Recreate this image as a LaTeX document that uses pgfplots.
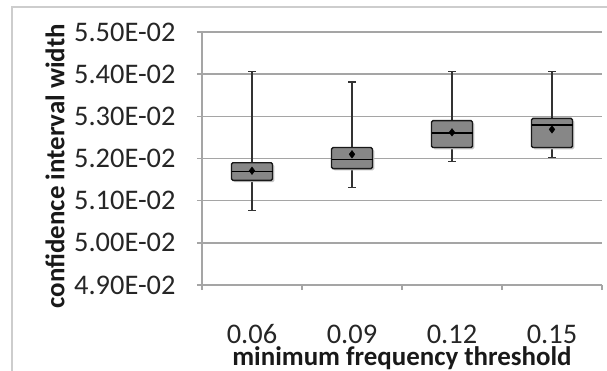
\documentclass[border=0pt]{standalone}
\usepackage{fontspec}
\setmainfont{Carlito}
\usepackage{pgfplots}
\pgfplotsset{compat=1.18}
\definecolor{boxgray}{RGB}{135,135,135}
\definecolor{gridgray}{RGB}{165,165,165}
\definecolor{framegray}{RGB}{205,205,205}
\definecolor{shadowgray}{RGB}{195,195,195}
\newcommand{\tickfont}{\fontsize{28.5}{32}\selectfont}
\pgfplotsset{
  whisk/.style={black!80, line width=1.4bp, no marks},
  boxst/.style={draw=black!90, fill=boxgray, line width=1.4bp, no marks, rounded corners=1.5bp},
  shst/.style={draw=none, fill=shadowgray, no marks, xshift=1.8bp, yshift=-1.8bp, rounded corners=1.5bp},
  medst/.style={black, line width=1.6bp, no marks},
  meanst/.style={only marks, mark=diamond*, mark size=3.8bp, black},
}
\begin{document}
\begin{tikzpicture}
\path[use as bounding box] (0bp,0bp) rectangle (607bp,371bp);
\draw[framegray, line width=1.2bp] (12bp,0bp) -- (12bp,364bp) -- (607bp,364bp);
% values in units of 1E-02
\begin{axis}[
  at={(202bp,86bp)}, anchor=south west,
  scale only axis, width=400bp, height=253bp,
  xmin=0, xmax=4, ymin=4.9, ymax=5.5,
  axis lines=left, axis line style={gridgray, line width=1.5bp, -},
  xtick={0,1,2,3,4}, x tick label as interval,
  xticklabels={0.06,0.09,0.12,0.15},
  ytick={4.9,5.0,5.1,5.2,5.3,5.4,5.5},
  yticklabels={4.90E-02,5.00E-02,5.10E-02,5.20E-02,5.30E-02,5.40E-02,5.50E-02},
  ymajorgrids, grid style={gridgray, line width=1.5bp},
  tick align=outside, major tick length=5bp,
  tick style={gridgray, line width=1.5bp},
  xticklabel style={font=\tickfont, text=black!85, anchor=base, yshift=-53bp},
  yticklabel style={font=\tickfont, text=black!85, anchor=east, xshift=-18bp},
  xlabel={minimum frequency threshold},
  ylabel={confidence interval width},
  label style={font=\fontsize{27}{31}\selectfont\bfseries, text=black!90},
  xlabel style={at={(axis description cs:0.5,-0.318)}, anchor=base},
  ylabel style={at={(axis description cs:-0.3675,0.47)}, anchor=center, rotate=0},
  clip=false,
]
% ---- 0.06: lw 5.076 lq 5.148 med 5.169 uq 5.190 uw 5.407 mean 5.171
\addplot[whisk] coordinates {(0.5,5.076) (0.5,5.148)};
\addplot[whisk] coordinates {(0.5,5.190) (0.5,5.407)};
\addplot[whisk] coordinates {(0.46,5.076) (0.54,5.076)};
\addplot[whisk] coordinates {(0.46,5.407) (0.54,5.407)};
\addplot[shst] coordinates {(0.295,5.148) (0.705,5.148) (0.705,5.190) (0.295,5.190)} -- cycle;
\addplot[boxst] coordinates {(0.295,5.148) (0.705,5.148) (0.705,5.190) (0.295,5.190)} -- cycle;
\addplot[medst] coordinates {(0.295,5.169) (0.705,5.169)};
\addplot[meanst] coordinates {(0.5,5.171)};
% ---- 0.09: lw 5.131 lq 5.176 med 5.198 uq 5.226 uw 5.381 mean 5.210
\addplot[whisk] coordinates {(1.5,5.131) (1.5,5.176)};
\addplot[whisk] coordinates {(1.5,5.226) (1.5,5.381)};
\addplot[whisk] coordinates {(1.46,5.131) (1.54,5.131)};
\addplot[whisk] coordinates {(1.46,5.381) (1.54,5.381)};
\addplot[shst] coordinates {(1.295,5.176) (1.705,5.176) (1.705,5.226) (1.295,5.226)} -- cycle;
\addplot[boxst] coordinates {(1.295,5.176) (1.705,5.176) (1.705,5.226) (1.295,5.226)} -- cycle;
\addplot[medst] coordinates {(1.295,5.198) (1.705,5.198)};
\addplot[meanst] coordinates {(1.5,5.210)};
% ---- 0.12: lw 5.193 lq 5.226 med 5.260 uq 5.290 uw 5.407 mean 5.262
\addplot[whisk] coordinates {(2.5,5.193) (2.5,5.226)};
\addplot[whisk] coordinates {(2.5,5.290) (2.5,5.407)};
\addplot[whisk] coordinates {(2.46,5.193) (2.54,5.193)};
\addplot[whisk] coordinates {(2.46,5.407) (2.54,5.407)};
\addplot[shst] coordinates {(2.295,5.226) (2.705,5.226) (2.705,5.290) (2.295,5.290)} -- cycle;
\addplot[boxst] coordinates {(2.295,5.226) (2.705,5.226) (2.705,5.290) (2.295,5.290)} -- cycle;
\addplot[medst] coordinates {(2.295,5.260) (2.705,5.260)};
\addplot[meanst] coordinates {(2.5,5.262)};
% ---- 0.15: lw 5.202 lq 5.226 med 5.279 uq 5.295 uw 5.407 mean 5.269
\addplot[whisk] coordinates {(3.5,5.202) (3.5,5.226)};
\addplot[whisk] coordinates {(3.5,5.295) (3.5,5.407)};
\addplot[whisk] coordinates {(3.46,5.202) (3.54,5.202)};
\addplot[whisk] coordinates {(3.46,5.407) (3.54,5.407)};
\addplot[shst] coordinates {(3.295,5.226) (3.705,5.226) (3.705,5.295) (3.295,5.295)} -- cycle;
\addplot[boxst] coordinates {(3.295,5.226) (3.705,5.226) (3.705,5.295) (3.295,5.295)} -- cycle;
\addplot[medst] coordinates {(3.295,5.279) (3.705,5.279)};
\addplot[meanst] coordinates {(3.5,5.269)};
\end{axis}
\end{tikzpicture}
\end{document}
